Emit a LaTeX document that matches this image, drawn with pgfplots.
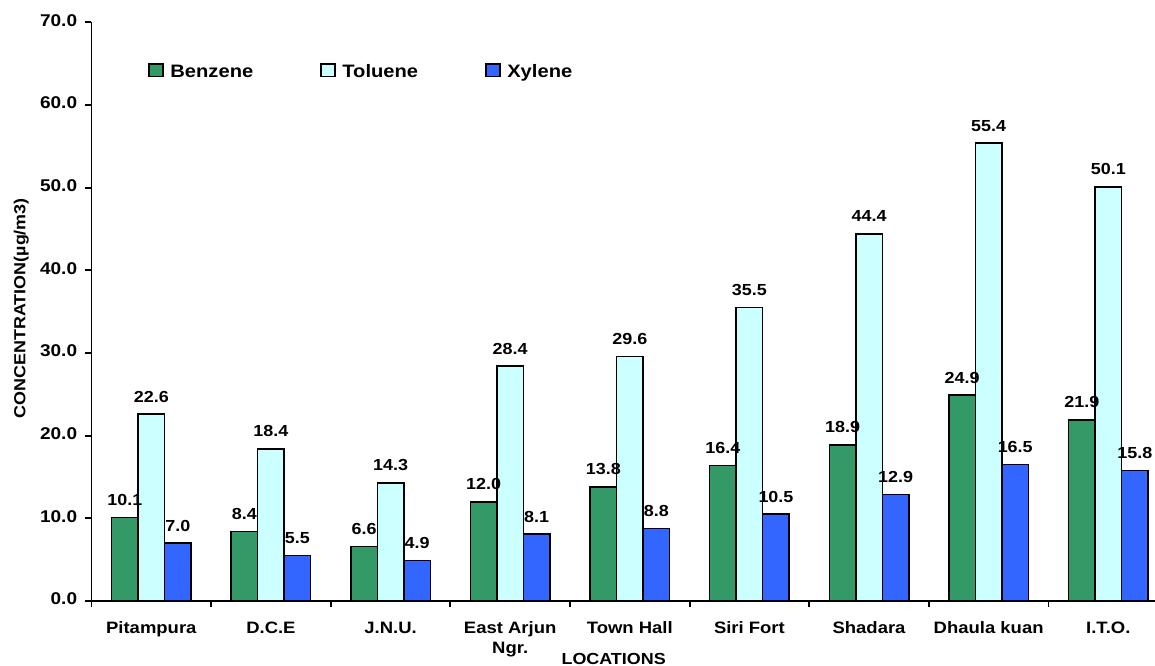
\documentclass[border=0pt]{standalone}
\usepackage{fontspec}
\setmainfont{Liberation Sans}[FakeStretch=1.12]
\usepackage{pgfplots}
\pgfplotsset{compat=1.18}
\definecolor{benz}{HTML}{339966}
\definecolor{tol}{HTML}{CCFFFF}
\definecolor{xyl}{HTML}{3366FF}
\begin{document}
\begin{tikzpicture}[font=\bfseries]
\useasboundingbox (-91.5bp,-65bp) rectangle (1063.5bp,601bp);
\begin{axis}[
  at={(0,0)}, anchor=south west,
  scale only axis, width=1063.5bp, height=578.7bp,
  xmin=-0.5, xmax=8.39, ymin=0, ymax=70,
  axis x line=bottom, axis y line=left,
  axis line style={-, line width=1.8bp, black},
  tick align=outside, major tick length=6bp,
  tick style={line width=1.8bp, black},
  xtick={-0.5,0.5,1.5,2.5,3.5,4.5,5.5,6.5,7.5},
  xticklabels={Pitampura, D.C.E, J.N.U., {East Arjun\\Ngr.}, Town Hall, Siri Fort, Shadara, Dhaula kuan, I.T.O.},
  typeset ticklabels with strut,
  xticklabel style={align=center, anchor=north, inner sep=0pt, xshift=59.8bp, yshift=-12.85bp, font=\fontsize{16.5bp}{19.5bp}\selectfont\bfseries},
  ytick={0,10,...,70},
  yticklabel style={anchor=east, inner sep=0pt, xshift=-8.2bp, font=\fontsize{17bp}{19bp}\selectfont\bfseries, /pgf/number format/.cd, fixed, fixed zerofill, precision=1},
  /pgf/number format/assume math mode=true,
  xlabel={LOCATIONS},
  xlabel style={at={(axis description cs:0.491,0)}, anchor=base, inner sep=0pt, yshift=-63bp, font=\fontsize{16bp}{18bp}\selectfont\bfseries},
  ylabel={CONCENTRATION(µg/m3)},
  ylabel style={at={([xshift=-66.2bp]axis description cs:0,0.506)}, anchor=base, rotate=0, inner sep=0pt, font=\fontsize{16bp}{18bp}\selectfont\bfseries},
  ybar, bar width=0.2216,
  nodes near coords={\pgfmathprintnumber[fixed,fixed zerofill,precision=1,assume math mode=true]{\pgfplotspointmeta}},
  every node near coord/.append style={anchor=base, yshift=12bp, inner sep=0pt, font=\fontsize{16bp}{18bp}\selectfont\bfseries},
  legend columns=3,
  legend style={draw=none, fill=none, at={(axis description cs:0.0534,0.9292)}, anchor=north west, inner sep=0pt, outer sep=0pt, nodes={inner sep=0pt, text height=13bp, text depth=4bp}, /tikz/every even column/.append style={column sep=67bp}, /tikz/every odd column/.append style={column sep=6.7bp}, font=\fontsize{18bp}{20bp}\selectfont\bfseries},
  legend image code/.code={\draw[#1, line width=1.4bp] (0bp,-3.2bp) rectangle (14bp,9.5bp);},
]
\addplot[fill=benz, draw=black, line width=1.5bp, bar shift=-0.2216] coordinates {(0,10.1) (1,8.4) (2,6.6) (3,12.0) (4,13.8) (5,16.4) (6,18.9) (7,24.9) (8,21.9)};
\addplot[fill=tol, draw=black, line width=1.5bp, bar shift=0] coordinates {(0,22.6) (1,18.4) (2,14.3) (3,28.4) (4,29.6) (5,35.5) (6,44.4) (7,55.4) (8,50.1)};
\addplot[fill=xyl, draw=black, line width=1.5bp, bar shift=0.2216] coordinates {(0,7.0) (1,5.5) (2,4.9) (3,8.1) (4,8.8) (5,10.5) (6,12.9) (7,16.5) (8,15.8)};
\legend{Benzene, Toluene, Xylene}
\end{axis}
\end{tikzpicture}
\end{document}
